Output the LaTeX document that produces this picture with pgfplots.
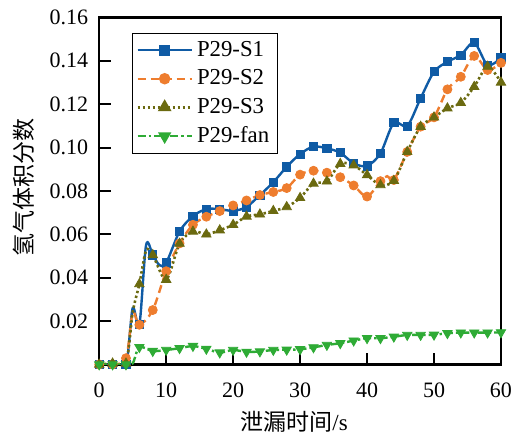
\documentclass[border=0pt]{standalone}
\usepackage{fontspec}
\setmainfont{Liberation Serif}
\newfontfamily\cjk{Noto Sans CJK SC}
\usepackage{pgfplots}
\pgfplotsset{compat=1.18}
\definecolor{cS1}{HTML}{0F5BA5}
\definecolor{cS2}{HTML}{EE7D2E}
\definecolor{cS3}{HTML}{6B6A10}
\definecolor{cFan}{HTML}{2EAB35}
\pgfplotsset{
 s1l/.style={cS1, line width=1.2pt, solid},
 s1m/.style={cS1, mark=square*, mark size=2.05pt, mark options={solid, fill=cS1}},
 s2l/.style={cS2, line width=1.2pt, dash pattern=on 4pt off 2.5pt},
 s2m/.style={cS2, mark=*, mark size=2.25pt, mark options={solid, fill=cS2}},
 s3l/.style={cS3, line width=1.3pt, dash pattern=on 1.2pt off 1.3pt},
 s3m/.style={cS3, mark=triangle*, mark size=2.7pt, mark options={solid, fill=cS3}},
 s4l/.style={cFan, line width=1.2pt, dash pattern=on 4pt off 1.5pt on 1.2pt off 1.5pt},
 s4m/.style={cFan, mark=triangle*, mark size=2.7pt, mark options={solid, fill=cFan, rotate=180}},
}
\begin{document}
\begin{tikzpicture}
\useasboundingbox (0,0) rectangle (259.5pt,217.5pt);
\begin{axis}[
 at={(49.6pt,35.25pt)}, anchor=south west,
 width=200.9pt, height=173.6pt, scale only axis,
 xmin=0, xmax=60, ymin=0, ymax=0.16,
 xtick={0,10,20,30,40,50,60},
 ytick={0.02,0.04,0.06,0.08,0.10,0.12,0.14,0.16},
 tick pos=left, tick align=inside, major tick length=6pt,
 axis line style={line width=1.2pt},
 every tick/.style={black, line width=1pt},
 scaled y ticks=false,
 yticklabel style={xshift=-2pt, /pgf/number format/.cd, fixed, fixed zerofill, precision=2},
 /pgf/number format/assume math mode=true,
 ticklabel style={font=\fontsize{11}{13}\selectfont},
 xticklabel style={yshift=-5.5pt},
 xlabel={{\cjk 泄漏时间}/s},
 ylabel={\cjk 氢气体积分数},
 label style={font=\fontsize{11.5}{13}\selectfont},
 xlabel style={at={(axis description cs:0.485,0)}, anchor=center, yshift=-28.5pt},
 ylabel style={at={(axis description cs:0,0.51)}, anchor=center, yshift=37.6pt},
 legend style={at={(axis description cs:0.081,0.956)}, anchor=north west, draw=black, line width=0.6pt,
   font=\fontsize{11.4}{13}\selectfont, inner sep=2pt, row sep=1.2pt, cells={anchor=west}},
 legend image code/.code={\draw[mark repeat=2,mark phase=2] plot coordinates {(0cm,0cm) (0.475cm,0cm) (0.95cm,0cm)};},
]
\addlegendimage{s1l, s1m}
\addlegendentry{P29-S1}
\addlegendimage{s2l, s2m}
\addlegendentry{P29-S2}
\addlegendimage{s3l, s3m}
\addlegendentry{P29-S3}
\addlegendimage{s4l, s4m}
\addlegendentry{P29-fan}

% S1
\addplot[s1l, smooth, forget plot] coordinates {
(0,0) (2,0) (4,0) (5,0.026) (6,0.0183) (7,0.0550) (8,0.0505) (9,0.0458) (10,0.0468)
(12,0.0613) (14,0.0684) (16,0.0716) (18,0.0716) (20,0.0708) (22,0.0726) (24,0.0781)
(26,0.0840) (28,0.0911) (30,0.0970) (32,0.1004) (34,0.0996) (36,0.0976) (38,0.0927)
(40,0.0915) (42,0.0973) (44,0.1114) (46,0.1099) (48,0.1227) (50,0.1349) (52,0.1395)
(54,0.1426) (56,0.1483) (58,0.1380) (60,0.1413)};
\addplot[s1m, only marks, forget plot] coordinates {
(0,0) (2,0) (4,0) (6,0.0183) (8,0.0505) (10,0.0468)
(12,0.0613) (14,0.0684) (16,0.0716) (18,0.0716) (20,0.0708) (22,0.0726) (24,0.0781)
(26,0.0840) (28,0.0911) (30,0.0970) (32,0.1004) (34,0.0996) (36,0.0976) (38,0.0927)
(40,0.0915) (42,0.0973) (44,0.1114) (46,0.1099) (48,0.1227) (50,0.1349) (52,0.1395)
(54,0.1426) (56,0.1483) (58,0.1380) (60,0.1413)};

% S2
\addplot[s2l, smooth, forget plot] coordinates {
(0,0) (2,0) (4,0.0029) (5,0.024) (6,0.0183) (8,0.0251) (10,0.0430) (12,0.0558)
(14,0.0644) (16,0.0681) (18,0.0707) (20,0.0733) (22,0.0756) (24,0.0781) (26,0.0795)
(28,0.0813) (30,0.0875) (32,0.0893) (34,0.0884) (36,0.0863) (38,0.0825) (40,0.0774)
(42,0.0845) (43,0.0868) (44,0.0850) (46,0.0980) (48,0.1096) (50,0.1139) (52,0.1268)
(54,0.1326) (56,0.1422) (58,0.1357) (60,0.1390)};
\addplot[s2m, only marks, forget plot] coordinates {
(0,0) (2,0) (4,0.0029) (6,0.0183) (8,0.0251) (10,0.0430) (12,0.0558)
(14,0.0644) (16,0.0681) (18,0.0707) (20,0.0733) (22,0.0756) (24,0.0781) (26,0.0795)
(28,0.0813) (30,0.0875) (32,0.0893) (34,0.0884) (36,0.0863) (38,0.0825) (40,0.0774)
(42,0.0845) (44,0.0850) (46,0.0980) (48,0.1096) (50,0.1139) (52,0.1268)
(54,0.1326) (56,0.1422) (58,0.1357) (60,0.1390)};

% S3
\addplot[s3l, smooth, forget plot] coordinates {
(0,0) (2,0.0005) (4,0.0005) (5,0.024) (6,0.0371) (7,0.0525) (8,0.0505) (10,0.0391)
(12,0.0557) (14,0.0613) (16,0.0600) (18,0.0619) (20,0.0644) (22,0.0682) (24,0.0692)
(26,0.0708) (28,0.0726) (30,0.0768) (32,0.0834) (34,0.0844) (36,0.0925) (38,0.0918)
(40,0.0873) (42,0.0827) (44,0.0847) (46,0.0980) (48,0.1096) (50,0.1139) (52,0.1181)
(54,0.1206) (56,0.1280) (58,0.1373) (60,0.1300)};
\addplot[s3m, only marks, forget plot] coordinates {
(0,0) (2,0.0005) (4,0.0005) (6,0.0371) (8,0.0505) (10,0.0391)
(12,0.0557) (14,0.0613) (16,0.0600) (18,0.0619) (20,0.0644) (22,0.0682) (24,0.0692)
(26,0.0708) (28,0.0726) (30,0.0768) (32,0.0834) (34,0.0844) (36,0.0925) (38,0.0918)
(40,0.0873) (42,0.0827) (44,0.0847) (46,0.0980) (48,0.1096) (50,0.1139) (52,0.1181)
(54,0.1206) (56,0.1280) (58,0.1373) (60,0.1300)};

% fan
\addplot[s4l, smooth, forget plot] coordinates {
(0,0) (2,0) (4,0) (5,0.0005) (6,0.0080) (8,0.0062) (10,0.0067) (12,0.0075) (14,0.0085)
(16,0.0072) (18,0.0055) (20,0.0067) (22,0.0058) (24,0.0060) (26,0.0067) (28,0.0068)
(30,0.0070) (32,0.0079) (34,0.0090) (36,0.0098) (38,0.0110) (40,0.0121) (42,0.0121)
(44,0.0128) (46,0.0136) (48,0.0136) (50,0.0137) (52,0.0144) (54,0.0147) (56,0.0147)
(58,0.0147) (60,0.0148)};
\addplot[s4m, only marks, forget plot] coordinates {
(0,0) (2,0) (4,0) (6,0.0080) (8,0.0062) (10,0.0067) (12,0.0075) (14,0.0085)
(16,0.0072) (18,0.0055) (20,0.0067) (22,0.0058) (24,0.0060) (26,0.0067) (28,0.0068)
(30,0.0070) (32,0.0079) (34,0.0090) (36,0.0098) (38,0.0110) (40,0.0121) (42,0.0121)
(44,0.0128) (46,0.0136) (48,0.0136) (50,0.0137) (52,0.0144) (54,0.0147) (56,0.0147)
(58,0.0147) (60,0.0148)};
\end{axis}
\end{tikzpicture}
\end{document}
